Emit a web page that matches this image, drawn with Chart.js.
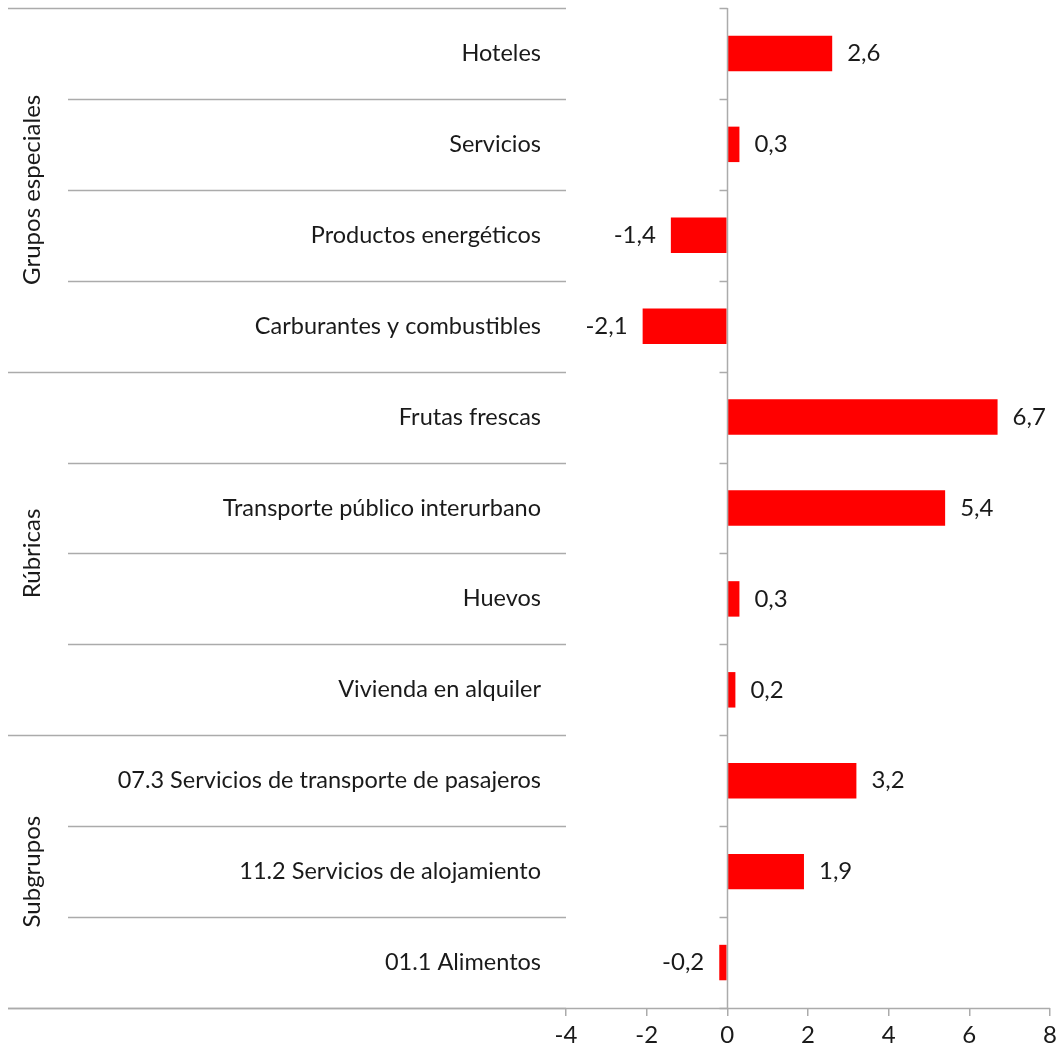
<!DOCTYPE html>
<html>
<head>
<meta charset="utf-8">
<script src="https://cdn.jsdelivr.net/npm/chart.js@4"></script>
<style>
  html, body { margin: 0; padding: 0; background: #fff; }
  #wrap { width: 1062px; height: 1055px; }
</style>
</head>
<body>
<div id="wrap"><canvas id="chart"></canvas></div>
<script>
const categories = [
  'Hoteles',
  'Servicios',
  'Productos energéticos',
  'Carburantes y combustibles',
  'Frutas frescas',
  'Transporte público interurbano',
  'Huevos',
  'Vivienda en alquiler',
  '07.3 Servicios de transporte de pasajeros',
  '11.2 Servicios de alojamiento',
  '01.1 Alimentos'
];
const values = [2.6, 0.3, -1.4, -2.1, 6.7, 5.4, 0.3, 0.2, 3.2, 1.9, -0.2];
// grupos: nombre, primera y última categoría
const groups = [
  { name: 'Grupos especiales', from: 0, to: 3 },
  { name: 'Rúbricas', from: 4, to: 7 },
  { name: 'Subgrupos', from: 8, to: 10 }
];
const xTicks = [-4, -2, 0, 2, 4, 6, 8];

const FONT = 'Lato, "Open Sans", sans-serif';
const GRAY = '#ababab';
const TEXT = '#1a1a1a';

const fmt = v => v.toFixed(1).replace('.', ',');

// lineas y rótulos de grupo a la izquierda, eje vertical en cero
const decorPlugin = {
  id: 'decor',
  afterDatasetsDraw(chart) {
    const ctx = chart.ctx;
    const y = chart.scales.y;
    const x = chart.scales.x;
    const area = chart.chartArea;
    const band = y.getPixelForValue(1) - y.getPixelForValue(0);
    const edge = i => y.getPixelForValue(i) - band / 2;
    const groupStarts = groups.map(g => g.from).concat([categories.length]);

    ctx.save();
    ctx.strokeStyle = GRAY;
    ctx.lineWidth = 1.5;
    for (let i = 0; i <= categories.length; i++) {
      const py = Math.round(edge(i)) + 0.5;
      const x0 = groupStarts.includes(i) ? 8 : 68;
      ctx.beginPath();
      ctx.moveTo(x0, py);
      ctx.lineTo(area.left, py);
      ctx.stroke();
    }

    // eje en cero con marcas
    const x0 = Math.round(x.getPixelForValue(0)) + 0.5;
    ctx.beginPath();
    ctx.moveTo(x0, area.top);
    ctx.lineTo(x0, area.bottom);
    ctx.stroke();
    for (let i = 0; i <= categories.length; i++) {
      const py = Math.round(edge(i)) + 0.5;
      ctx.beginPath();
      ctx.moveTo(x0 - 8, py);
      ctx.lineTo(x0, py);
      ctx.stroke();
    }

    // eje inferior
    const by = Math.round(area.bottom) + 0.5;
    ctx.beginPath();
    ctx.moveTo(8, by);
    ctx.lineTo(area.right, by);
    ctx.stroke();

    // rótulos de grupo
    ctx.fillStyle = TEXT;
    ctx.font = '24px ' + FONT;
    ctx.textAlign = 'center';
    ctx.textBaseline = 'middle';
    groups.forEach(g => {
      const cy = (edge(g.from) + edge(g.to + 1)) / 2;
      ctx.save();
      ctx.translate(32, cy);
      ctx.rotate(-Math.PI / 2);
      ctx.fillText(g.name, 0, 0);
      ctx.restore();
    });

    // etiquetas de valores
    ctx.font = '24px ' + FONT;
    const meta = chart.getDatasetMeta(0);
    meta.data.forEach((bar, i) => {
      const v = values[i];
      if (v >= 0) {
        ctx.textAlign = 'left';
        ctx.fillText(fmt(v), bar.x + 15, bar.y);
      } else {
        ctx.textAlign = 'right';
        ctx.fillText(fmt(v), bar.x - 15, bar.y);
      }
    });
    ctx.restore();
  }
};

new Chart(document.getElementById('chart'), {
  type: 'bar',
  data: {
    labels: categories,
    datasets: [{
      data: values,
      backgroundColor: '#ff0000',
      borderWidth: 0,
      barPercentage: 0.39,
      categoryPercentage: 1
    }]
  },
  options: {
    indexAxis: 'y',
    responsive: true,
    maintainAspectRatio: false,
    animation: false,
    layout: { padding: { top: 8, right: 12, left: 0, bottom: 0 } },
    plugins: {
      legend: { display: false },
      tooltip: { enabled: false }
    },
    scales: {
      x: {
        min: -4,
        max: 8,
        afterBuildTicks(scale) {
          scale.ticks = xTicks.map(v => ({ value: v }));
        },
        afterFit(scale) { scale.height = 47; },
        grid: {
          drawOnChartArea: false,
          drawTicks: true,
          tickLength: 8,
          color: GRAY,
          lineWidth: 1.5
        },
        border: { display: false },
        ticks: {
          color: TEXT,
          font: { family: FONT, size: 24 },
          padding: 5,
          maxRotation: 0
        }
      },
      y: {
        afterFit(scale) {
          scale.width = 566;
          scale.paddingTop = 0;
          scale.paddingBottom = 0;
        },
        grid: { display: false, drawTicks: false },
        border: { display: false },
        ticks: {
          color: TEXT,
          font: { family: FONT, size: 23.5 },
          padding: 25,
          autoSkip: false
        }
      }
    }
  },
  plugins: [decorPlugin]
});
</script>
</body>
</html>
